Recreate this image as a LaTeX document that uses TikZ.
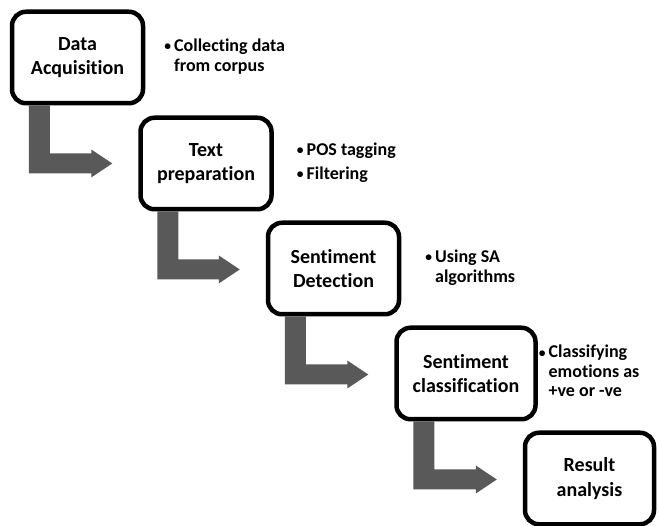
\documentclass[tikz,border=0pt]{standalone}
\usepackage{fontspec}
\setmainfont[Ligatures=NoCommon]{Carlito}
\usetikzlibrary{positioning,calc}
\definecolor{arrowgray}{HTML}{595959}
\newcommand{\dotmark}{\raisebox{0.1ex}{\scalebox{0.75}{\textbullet}}}
\tikzset{
  stage/.style={draw,line width=4.5pt,rounded corners=14pt,fill=white,
    minimum width=131pt,minimum height=91.5pt,align=center,
    font=\fontsize{20pt}{24.4pt}\selectfont\bfseries},
  note/.style={inner sep=0pt,align=left,
    font=\fontsize{18pt}{19.5pt}\selectfont\bfseries},
  bentarrow/.style={fill=arrowgray},
}
% bent arrow from the foot of one stage to the side of the next
\newcommand{\bendarrow}[2]{%
  \fill[bentarrow] let \p1=(#1.south west), \p2=(#2.west) in
    (\x1+19pt,\y1) -- (\x1+19pt,\y1-68pt) -- (\x2-47pt,\y1-68pt)
    -- (\x2-47pt,\y1-72pt) -- (\x2-26pt,\y1-58pt) -- (\x2-47pt,\y1-44pt)
    -- (\x2-47pt,\y1-48pt) -- (\x1+40pt,\y1-48pt) -- (\x1+40pt,\y1) -- cycle;}

\begin{document}
\begin{tikzpicture}
\useasboundingbox (0,0) rectangle (659pt,-526pt);

\node[stage] (acq) at (77.5pt,-57.5pt) {Data\\Acquisition};
\node[stage,below right=10pt and -7pt of acq] (prep) {Text\\preparation};
\node[stage,below right=9pt and -8pt of prep] (detect) {Sentiment\\Detection};
\node[stage,minimum width=139pt,below right=9pt and -7pt of detect] (classif) {Sentiment\\classification};
\node[stage,minimum width=129pt,below right=9pt and -15pt of classif] (result) {Result\\analysis};

\node[note,right=19pt of acq] (acqnote) {\begin{tabular}{@{}l@{\hspace{3pt}}l@{}}
  \dotmark & Collecting data\\ & from corpus\end{tabular}};
\node[note,right=23pt of prep] (prepnote) {\begin{tabular}{@{}l@{\hspace{3pt}}l@{}}
  \dotmark & POS tagging\\[4.5pt] \dotmark & Filtering\end{tabular}};
\node[note,right=24pt of detect] (detectnote) {\begin{tabular}{@{}l@{\hspace{3pt}}l@{}}
  \dotmark & Using SA\\ & algorithms\end{tabular}};
\node[note,right=1pt of classif] (classifnote) {\begin{tabular}{@{}l@{\hspace{3pt}}l@{}}
  \dotmark & Classifying\\ & emotions as\\ & +ve or -ve\end{tabular}};

\bendarrow{acq}{prep}
\bendarrow{prep}{detect}
\bendarrow{detect}{classif}
\bendarrow{classif}{result}

\end{tikzpicture}
\end{document}
